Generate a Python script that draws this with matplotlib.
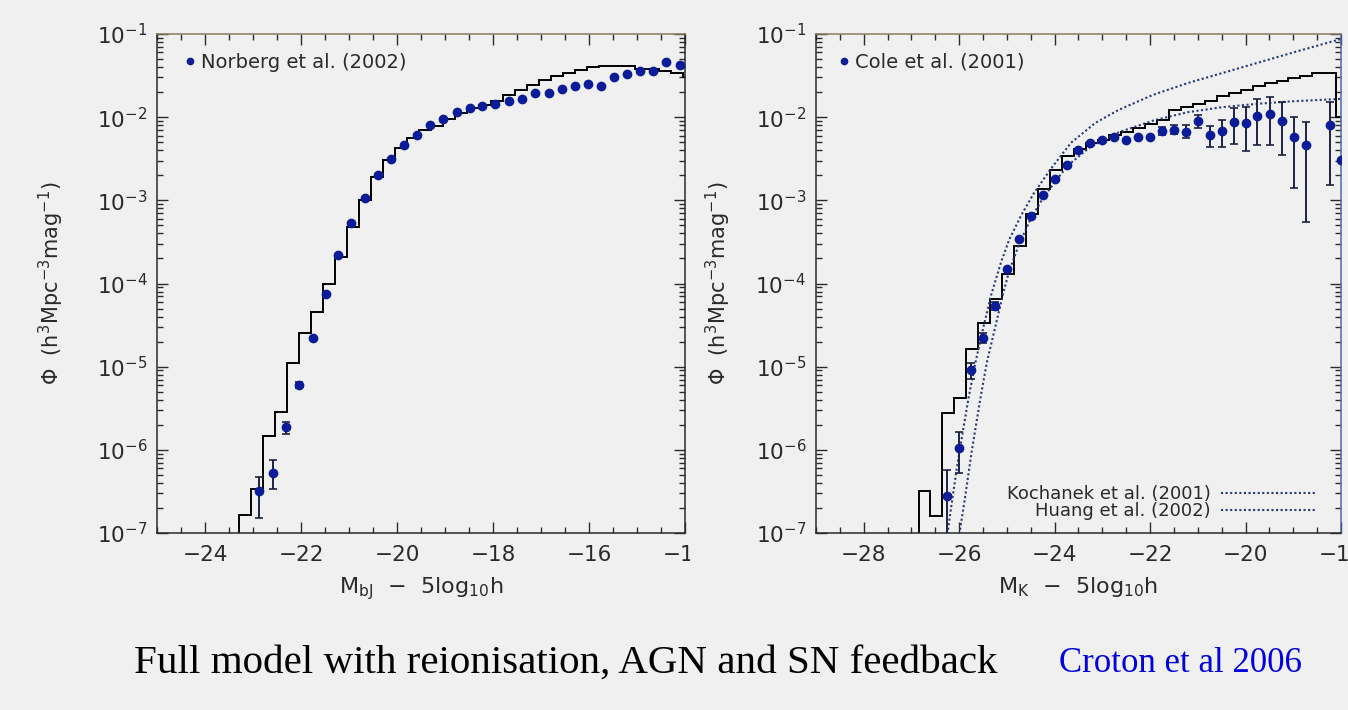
import matplotlib
matplotlib.use("Agg")
import matplotlib.pyplot as plt
import matplotlib.ticker as mticker
from matplotlib.patches import Rectangle
import numpy as np

# ── Left panel: bJ-band luminosity function ─────────────────────────────
norberg_mag = [-22.88, -22.58, -22.31, -22.04, -21.76, -21.48, -21.22, -20.95,
               -20.67, -20.40, -20.12, -19.86, -19.58, -19.31, -19.04, -18.76,
               -18.49, -18.22, -17.95, -17.67, -17.40, -17.12, -16.84, -16.57,
               -16.30, -16.02, -15.75, -15.48, -15.20, -14.93, -14.66, -14.39,
               -14.10]
norberg_logphi = [-6.50, -6.28, -5.73, -5.22, -4.66, -4.13, -3.66, -3.27,
                  -2.97, -2.70, -2.50, -2.33, -2.21, -2.09, -2.02, -1.94,
                  -1.89, -1.86, -1.84, -1.80, -1.78, -1.71, -1.71, -1.66,
                  -1.62, -1.60, -1.62, -1.52, -1.48, -1.45, -1.45, -1.34,
                  -1.37]
norberg_err_mag = [-22.88, -22.58, -22.31, -22.04]
norberg_err_loglo = [-6.82, -6.47, -5.81, -5.26]
norberg_err_loghi = [-6.33, -6.12, -5.66, -5.18]

model_b_edges = [-25.0, -23.3, -23.05, -22.8, -22.55, -22.3, -22.05, -21.8,
                 -21.55, -21.3, -21.05, -20.8, -20.55, -20.3, -20.05, -19.8,
                 -19.55, -19.3, -19.05, -18.8, -18.55, -18.3, -18.05, -17.8,
                 -17.55, -17.3, -17.05, -16.8, -16.55, -16.3, -16.05, -15.8,
                 -15.55, -15.3, -15.05, -14.8, -14.55, -14.3, -14.05, -14.0]
model_b_logphi = [-9.0, -6.78, -6.47, -5.83, -5.55, -4.95, -4.59, -4.34,
                  -4.00, -3.68, -3.32, -3.00, -2.72, -2.52, -2.37, -2.25,
                  -2.16, -2.11, -2.02, -1.95, -1.89, -1.85, -1.80, -1.73,
                  -1.67, -1.61, -1.55, -1.51, -1.47, -1.43, -1.40, -1.39,
                  -1.39, -1.39, -1.42, -1.42, -1.45, -1.47, -1.52]

# ── Right panel: K-band luminosity function ─────────────────────────────
cole_mag = [-26.25, -26.00, -25.76, -25.51, -25.24, -24.99, -24.74, -24.50,
            -24.24, -23.99, -23.74, -23.50, -23.26, -23.01, -22.76, -22.50,
            -22.25, -22.00, -21.76, -21.49, -21.25, -21.00, -20.75, -20.49,
            -20.24, -19.99, -19.75, -19.48, -19.24, -18.99, -18.74, -18.23,
            -18.01]
cole_logphi = [-6.55, -5.98, -5.04, -4.66, -4.27, -3.83, -3.47, -3.19,
               -2.93, -2.74, -2.58, -2.39, -2.31, -2.28, -2.24, -2.28,
               -2.24, -2.24, -2.17, -2.15, -2.18, -2.04, -2.21, -2.17,
               -2.06, -2.07, -1.98, -1.96, -2.04, -2.24, -2.34, -2.09,
               -2.51]
cole_err_mag = [-26.25, -26.00, -25.76, -25.51, -25.24, -21.76, -21.49, -21.25,
                -21.00, -20.75, -20.49, -20.24, -19.99, -19.75, -19.48, -19.24,
                -18.99, -18.74, -18.23]
cole_err_loglo = [-8.0, -6.28, -5.15, -4.72, -4.32, -2.21, -2.20, -2.25,
                  -2.13, -2.36, -2.36, -2.32, -2.41, -2.33, -2.33, -2.46,
                  -2.85, -3.26, -2.81]
cole_err_loghi = [-6.24, -5.79, -4.95, -4.60, -4.22, -2.12, -2.09, -2.09,
                  -1.97, -2.11, -2.03, -1.89, -1.88, -1.78, -1.76, -1.82,
                  -2.00, -2.06, -1.82]

model_k_edges = [-29.0, -26.85, -26.6, -26.35, -26.1, -25.85, -25.6, -25.35,
                 -25.1, -24.85, -24.6, -24.35, -24.1, -23.85, -23.6, -23.35,
                 -23.1, -22.85, -22.6, -22.35, -22.1, -21.85, -21.6, -21.35,
                 -21.1, -20.85, -20.6, -20.35, -20.1, -19.85, -19.6, -19.35,
                 -19.1, -18.85, -18.6, -18.35, -18.1, -18.0]
model_k_logphi = [-9.0, -6.50, -6.80, -5.56, -5.38, -4.79, -4.48, -4.19,
                  -3.88, -3.55, -3.16, -2.86, -2.63, -2.47, -2.38, -2.31,
                  -2.27, -2.22, -2.18, -2.13, -2.08, -2.03, -1.91, -1.88,
                  -1.84, -1.80, -1.75, -1.71, -1.67, -1.62, -1.59, -1.56,
                  -1.53, -1.50, -1.47, -1.47, -2.00]

kochanek_mag = [-26.26, -26.15, -26.05, -25.92, -25.81, -25.67, -25.49, -25.32,
                -25.12, -24.95, -24.70, -24.44, -24.09, -23.66, -23.15, -22.65,
                -21.93, -21.21, -20.49, -19.77, -19.05, -18.00]
kochanek_logphi = [-7.07, -6.62, -6.23, -5.77, -5.40, -4.98, -4.52, -4.12,
                   -3.74, -3.47, -3.18, -2.92, -2.63, -2.31, -2.07, -1.91,
                   -1.73, -1.59, -1.47, -1.35, -1.23, -1.06]
huang_mag = [-26.01, -25.87, -25.74, -25.56, -25.42, -25.23, -25.07, -24.95,
             -24.76, -24.50, -24.23, -23.74, -23.26, -22.65, -21.93, -21.21,
             -20.49, -19.77, -19.05, -18.00]
huang_logphi = [-7.07, -6.55, -6.03, -5.40, -4.95, -4.49, -4.10, -3.85,
                -3.55, -3.22, -2.96, -2.59, -2.36, -2.18, -2.04, -1.94,
                -1.88, -1.84, -1.81, -1.78]

# ── Style constants ──────────────────────────────────────────────────────
_BG = "#f0f0f0"
_INK = "#2a2a2a"
_DOT = "#0a1c98"
_ERR = "#1c2345"
_CURVE = "#27377a"
_TAN = "#8b7b5e"

plt.rcParams["font.family"] = "DejaVu Sans"


def _style_ax(ax, xlim, xlabel, ylabelpad):
    ax.set_facecolor(_BG)
    ax.set_yscale("log")
    ax.set_xlim(*xlim)
    ax.set_ylim(1e-7, 1e-1)
    ax.xaxis.set_major_locator(mticker.MultipleLocator(2))
    ax.xaxis.set_minor_locator(mticker.MultipleLocator(0.5))
    ax.yaxis.set_major_locator(mticker.LogLocator(base=10, numticks=10))
    ax.yaxis.set_minor_locator(mticker.LogLocator(base=10, subs=np.arange(2, 10),
                                                  numticks=20))
    ax.yaxis.set_minor_formatter(mticker.NullFormatter())
    ax.tick_params(which="both", direction="in", top=True, right=True,
                   colors=_INK, labelcolor=_INK, labelsize=15.5, width=1.0)
    ax.tick_params(which="major", length=8)
    ax.tick_params(which="minor", length=4)
    ax.tick_params(axis="y", pad=7)
    ax.tick_params(axis="x", pad=9)
    for s in ax.spines.values():
        s.set_color(_INK)
        s.set_linewidth(1.1)
    ax.spines["top"].set_color(_TAN)
    ax.set_xlabel(xlabel, fontsize=16, color=_INK, labelpad=7)
    ax.set_ylabel(r"$\Phi$  (h$^3$Mpc$^{-3}$mag$^{-1}$)", fontsize=15,
                  color=_INK, labelpad=ylabelpad)


fig = plt.figure(figsize=(13.48, 7.10), dpi=100, facecolor=_BG)
ax1 = fig.add_axes([0.1165, 0.2493, 0.3917, 0.7028])
ax2 = fig.add_axes([0.6053, 0.2493, 0.3895, 0.7028])

# left
ax1.stairs(10 ** np.array(model_b_logphi), model_b_edges, baseline=None,
           color="black", linewidth=1.4, zorder=2)
lo = 10 ** np.array(norberg_err_loglo)
hi = 10 ** np.array(norberg_err_loghi)
mid = 10 ** np.interp(norberg_err_mag, norberg_mag, norberg_logphi)
ax1.errorbar(norberg_err_mag, mid, yerr=[mid - lo, hi - mid], fmt="none",
             ecolor=_ERR, elinewidth=1.4, capsize=3, capthick=1.2, zorder=3)
ax1.plot(norberg_mag, 10 ** np.array(norberg_logphi), "o", color=_DOT,
         markersize=6, label="Norberg et al. (2002)", zorder=4)
ax1.legend(loc="upper left", bbox_to_anchor=(0.03, 0.99), frameon=False,
           handlelength=0.4, handletextpad=0.35, markerscale=0.75,
           prop={"size": 14}, labelcolor=_INK, borderpad=0.2)
_style_ax(ax1, (-25, -14), r"M$_{\mathrm{bJ}}$  $-$  5log$_{10}$h", 22)

# right
ax2.stairs(10 ** np.array(model_k_logphi), model_k_edges, baseline=None,
           color="black", linewidth=1.4, zorder=2)
k_line, = ax2.plot(kochanek_mag, 10 ** np.array(kochanek_logphi),
                   linestyle=(0, (1, 1.2)), color=_CURVE, linewidth=1.5,
                   label="Kochanek et al. (2001)", zorder=3)
h_line, = ax2.plot(huang_mag, 10 ** np.array(huang_logphi),
                   linestyle=(0, (1, 1.2)), color=_CURVE, linewidth=1.5,
                   label="Huang et al. (2002)", zorder=3)
lo = 10 ** np.array(cole_err_loglo)
hi = 10 ** np.array(cole_err_loghi)
mid = 10 ** np.interp(cole_err_mag, cole_mag, cole_logphi)
ax2.errorbar(cole_err_mag, mid, yerr=[mid - lo, hi - mid], fmt="none",
             ecolor=_ERR, elinewidth=1.4, capsize=3, capthick=1.2, zorder=3)
c_pts, = ax2.plot(cole_mag, 10 ** np.array(cole_logphi), "o", color=_DOT,
                  markersize=6, label="Cole et al. (2001)", zorder=4)
leg1 = ax2.legend(handles=[c_pts], loc="upper left", bbox_to_anchor=(0.02, 0.99),
                  frameon=False, handlelength=0.4, handletextpad=0.35,
                  markerscale=0.75, prop={"size": 14}, labelcolor=_INK,
                  borderpad=0.2)
ax2.add_artist(leg1)
ax2.legend(handles=[k_line, h_line], loc="lower right",
           bbox_to_anchor=(0.975, 0.0), frameon=False, markerfirst=False,
           handlelength=5.2, handletextpad=0.6, labelspacing=-0.04,
           prop={"size": 13}, labelcolor=_INK, borderpad=0.2)
_style_ax(ax2, (-29, -18), r"M$_{\mathrm{K}}$  $-$  5log$_{10}$h", 16)
ax2.spines["right"].set_color("#4a6ab0")

# left image ends here: hide the tail of the last tick label
fig.patches.append(Rectangle((690 / 1348, 1 - 580 / 710), 30 / 1348, 42 / 710,
                             transform=fig.transFigure, facecolor=_BG,
                             edgecolor="none", zorder=10))

fig.text(0.4195, 0.066, "Full model with reionisation, AGN and SN feedback",
         family="Liberation Serif", fontsize=29.5, color="black",
         ha="center", va="center")
fig.text(0.8756, 0.066, "Croton et al 2006", family="Liberation Serif",
         fontsize=25, color="#0000e0", ha="center", va="center")

fig.savefig("out.png", dpi=100, facecolor=_BG)
